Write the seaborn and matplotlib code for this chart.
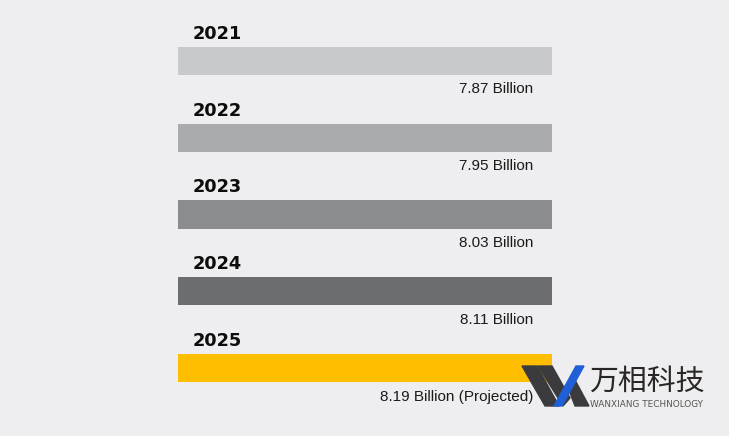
import matplotlib
matplotlib.use("Agg")
import matplotlib.pyplot as plt
import seaborn as sns
import pandas as pd
from matplotlib.patches import Polygon

years = ["2021", "2022", "2023", "2024", "2025"]
population_billion = [7.87, 7.95, 8.03, 8.11, 8.19]
value_labels = ["7.87 Billion", "7.95 Billion", "8.03 Billion", "8.11 Billion",
                "8.19 Billion (Projected)"]
bar_fill = [1.0, 1.0, 1.0, 1.0, 1.0]  # infographic: every bar drawn full width
bar_colors = ["#c8c9cb", "#aaabad", "#8b8c8e", "#6c6d6f", "#ffbe00"]

BG = "#eeeef0"
W, H = 729, 436
sns.set_theme(style="white")
plt.rcParams["font.family"] = ["Liberation Sans", "DejaVu Sans"]

fig = plt.figure(figsize=(W / 100, H / 100), dpi=100, facecolor=BG)
ax = fig.add_axes([178 / W, 1 - 406.4 / H, 374 / W, 383.8 / H])
ax.set_facecolor(BG)

df = pd.DataFrame({"year": years, "fill": bar_fill, "value": population_billion})
sns.barplot(data=df, y="year", x="fill", hue="year", palette=bar_colors,
            legend=False, width=0.365, ax=ax, saturation=1, linewidth=0)
ax.set_xlim(0, 1)
ax.set_ylim(4.5, -0.5)
ax.axis("off")

for i, (yr, lab) in enumerate(zip(years, value_labels)):
    ax.annotate(yr, xy=(0, i), xytext=(15, 27), textcoords="offset pixels",
                ha="left", va="center", fontsize=12.8, fontweight="bold",
                family="DejaVu Sans", color="#0d0d0d")
    ax.annotate(lab, xy=(bar_fill[i], i), xytext=(-19, -28.5), textcoords="offset pixels",
                ha="right", va="center", fontsize=11, color="#1a1a1a")

# watermark logo
def px(pts):
    return [(x / W, 1 - y / H) for x, y in pts]

dark = "#3b3b3d"
fig.patches.append(Polygon(px([(522, 366), (537, 366), (559, 406), (545, 406)]),
                           closed=True, color=dark, transform=fig.transFigure))
fig.patches.append(Polygon(px([(538, 366), (552, 366), (570, 398), (563, 406)]),
                           closed=True, color=dark, transform=fig.transFigure))
fig.patches.append(Polygon(px([(567, 385), (574, 378), (589, 406), (575, 406)]),
                           closed=True, color=dark, transform=fig.transFigure))
fig.patches.append(Polygon(px([(576, 366), (584, 366), (562, 406), (554, 406)]),
                           closed=True, color="#1f5fd8", transform=fig.transFigure))
fig.text(589 / W, 1 - 382 / H, "万相科技", family=["Noto Sans CJK SC", "DejaVu Sans"],
         fontsize=20.8, color="#2a2626", ha="left", va="center")
fig.text(590 / W, 1 - 404 / H, "WANXIANG TECHNOLOGY", family="DejaVu Sans",
         fontsize=6.4, color="#555555", ha="left", va="center")

fig.savefig("out.png", dpi=100, facecolor=BG)
